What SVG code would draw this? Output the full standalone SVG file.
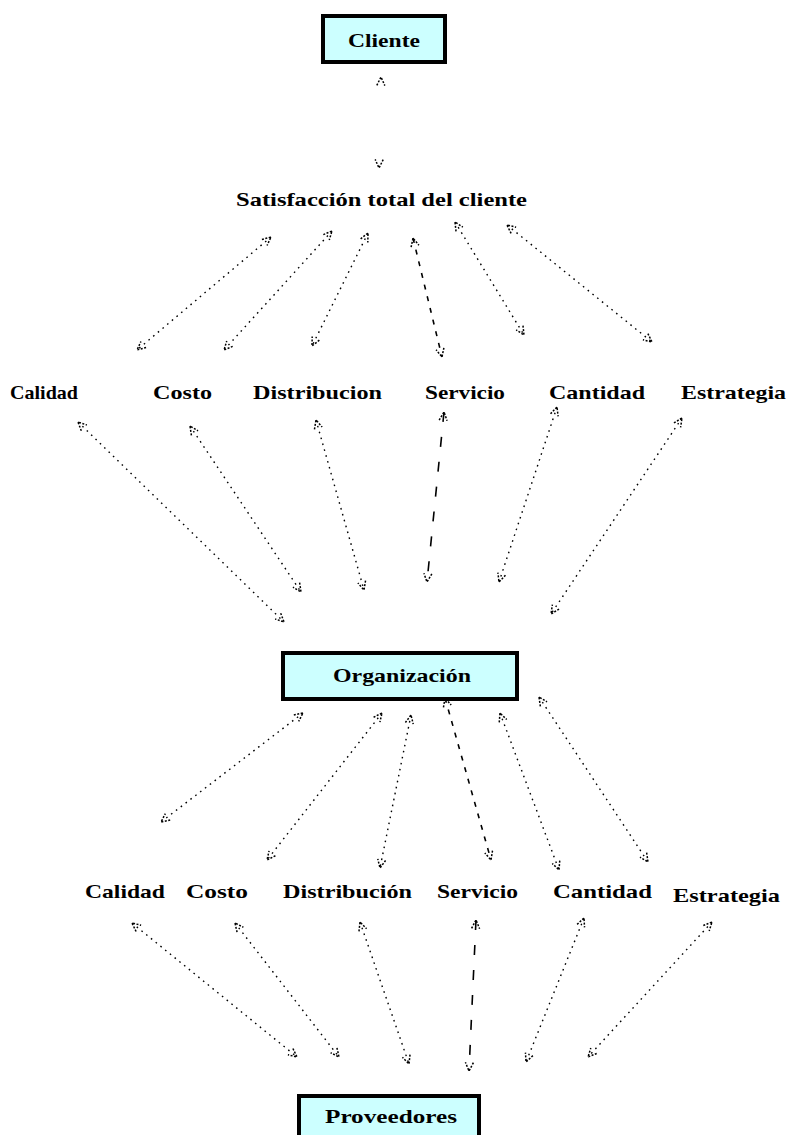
<svg xmlns="http://www.w3.org/2000/svg" width="790" height="1135" viewBox="0 0 790 1135">
  <style>
    .box { fill: #ccffff; stroke: #000; stroke-width: 4; }
    .lbl { font-family: "Liberation Serif", serif; font-size: 19px; font-weight: bold; fill: #000; }
    .ttl { font-family: "Liberation Serif", serif; font-size: 19px; font-weight: bold; fill: #000; }
    .dot { fill: none; stroke: #000; stroke-width: 1.4; stroke-dasharray: 1.6 4.5; marker-start: url(#ah); marker-end: url(#ah); }
    .dash { fill: none; stroke: #000; stroke-width: 1.6; stroke-dasharray: 10 15; marker-start: url(#ah); marker-end: url(#ah); }
  </style>
  <defs>
    <!-- open arrowhead drawn with a broken stroke -->
    <marker id="ah" viewBox="0 0 10 10" refX="9.5" refY="5" markerWidth="10" markerHeight="10" markerUnits="userSpaceOnUse" orient="auto-start-reverse">
      <path d="M1,1 L9.5,5 L1,9" fill="none" stroke="#000" stroke-width="1.5" stroke-dasharray="2 1.5"/>
    </marker>
  </defs>
  <rect width="790" height="1135" fill="#fff"/>

  <g id="cliente">
    <rect class="box" x="323" y="16" width="122" height="46"/>
    <text class="ttl" x="348" y="47" textLength="72" lengthAdjust="spacingAndGlyphs">Cliente</text>
  </g>
  <g id="satisfaccion">
    <text class="ttl" x="236" y="206" textLength="291" lengthAdjust="spacingAndGlyphs">Satisfacción total del cliente</text>
  </g>

  <g id="calidad-1"><text class="lbl" x="10" y="399" textLength="68" lengthAdjust="spacingAndGlyphs">Calidad</text></g>
  <g id="costo-1"><text class="lbl" x="153" y="399" textLength="59" lengthAdjust="spacingAndGlyphs">Costo</text></g>
  <g id="distribucion-1"><text class="lbl" x="253" y="399" textLength="129" lengthAdjust="spacingAndGlyphs">Distribucion</text></g>
  <g id="servicio-1"><text class="lbl" x="425" y="399" textLength="80" lengthAdjust="spacingAndGlyphs">Servicio</text></g>
  <g id="cantidad-1"><text class="lbl" x="549" y="399" textLength="96" lengthAdjust="spacingAndGlyphs">Cantidad</text></g>
  <g id="estrategia-1"><text class="lbl" x="681" y="399" textLength="105" lengthAdjust="spacingAndGlyphs">Estrategia</text></g>

  <g id="organizacion">
    <rect class="box" x="283" y="653" width="234" height="46"/>
    <text class="ttl" x="333" y="682" textLength="138" lengthAdjust="spacingAndGlyphs">Organización</text>
  </g>

  <g id="calidad-2"><text class="lbl" x="85" y="898" textLength="80" lengthAdjust="spacingAndGlyphs">Calidad</text></g>
  <g id="costo-2"><text class="lbl" x="186" y="898" textLength="62" lengthAdjust="spacingAndGlyphs">Costo</text></g>
  <g id="distribucion-2"><text class="lbl" x="283" y="898" textLength="129" lengthAdjust="spacingAndGlyphs">Distribución</text></g>
  <g id="servicio-2"><text class="lbl" x="437" y="898" textLength="81" lengthAdjust="spacingAndGlyphs">Servicio</text></g>
  <g id="cantidad-2"><text class="lbl" x="553" y="898" textLength="99" lengthAdjust="spacingAndGlyphs">Cantidad</text></g>
  <g id="estrategia-2"><text class="lbl" x="673" y="902" textLength="107" lengthAdjust="spacingAndGlyphs">Estrategia</text></g>

  <g id="proveedores">
    <rect class="box" x="299" y="1096" width="180" height="46"/>
    <text class="ttl" x="325" y="1123" textLength="132" lengthAdjust="spacingAndGlyphs">Proveedores</text>
  </g>

  <g id="connectors">
    <!-- cliente / satisfaccion -->
    <path class="dot" d="M381,77 L379,168" style="stroke-dasharray: 0 100"/>
    <!-- satisfaccion / first row -->
    <path class="dot" d="M271,237 L137,350"/>
    <path class="dot" d="M332,231 L224,350"/>
    <path class="dot" d="M368,233 L312,346"/>
    <path class="dash" d="M413,238 L442,357" style="stroke-dasharray: 5 7"/>
    <path class="dot" d="M455,222 L524,335"/>
    <path class="dot" d="M507,225 L652,342"/>
    <!-- first row / organizacion -->
    <path class="dot" d="M78,422 L284,622"/>
    <path class="dot" d="M190,426 L301,592"/>
    <path class="dot" d="M316,420 L364,590"/>
    <path class="dash" d="M444,412 L427,582"/>
    <path class="dot" d="M557,407 L499,582"/>
    <path class="dot" d="M682,418 L551,614"/>
    <!-- organizacion / second row -->
    <path class="dot" d="M303,713 L161,822"/>
    <path class="dot" d="M382,713 L267,860"/>
    <path class="dot" d="M411,715 L380,868"/>
    <path class="dash" d="M445,698 L491,860" style="stroke-dasharray: 5 7"/>
    <path class="dot" d="M500,713 L559,870"/>
    <path class="dot" d="M539,697 L648,862"/>
    <!-- second row / proveedores -->
    <path class="dot" d="M132,923 L297,1057"/>
    <path class="dot" d="M235,923 L339,1057"/>
    <path class="dot" d="M360,922 L409,1064"/>
    <path class="dash" d="M476,920 L469,1071"/>
    <path class="dot" d="M584,918 L526,1062"/>
    <path class="dot" d="M712,922 L588,1057"/>
  </g>
</svg>
